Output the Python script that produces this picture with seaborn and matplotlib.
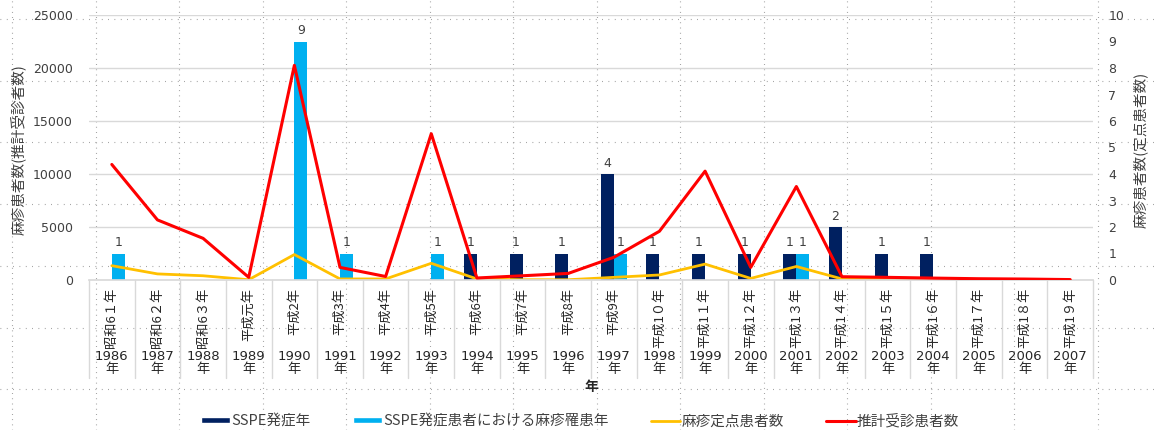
import matplotlib
matplotlib.use('Agg')
import matplotlib.pyplot as plt
from matplotlib.lines import Line2D
from matplotlib.patches import Patch
import seaborn as sns
import numpy as np
import pandas as pd

# Data
years = [str(y) for y in range(1986, 2008)]
era_labels = ['昭和6１年', '昭和6２年', '昭和6３年', '平成元年', '平成2年', '平成3年', '平成4年',
              '平成5年', '平成6年', '平成7年', '平成8年', '平成9年', '平成1０年', '平成1１年',
              '平成1２年', '平成1３年', '平成1４年', '平成1５年', '平成1６年', '平成1７年',
              '平成1８年', '平成1９年']
sspe_onset = [0, 0, 0, 0, 0, 0, 0, 0, 1, 1, 1, 4, 1, 1, 1, 1, 2, 1, 1, 0, 0, 0]
sspe_measles_year = [1, 0, 0, 0, 9, 1, 0, 1, 0, 0, 0, 1, 0, 0, 0, 1, 0, 0, 0, 0, 0, 0]
sentinel_cases = [0.54, 0.23, 0.16, 0.01, 0.96, 0.04, 0.04, 0.63, 0.04, 0.01, 0.01, 0.10,
                  0.19, 0.60, 0.06, 0.51, 0.04, 0.03, 0.02, 0.01, 0.01, 0.00]
estimated_cases = [10900, 5670, 3930, 250, 20250, 1190, 330, 13800, 190, 400, 620, 2140,
                   4600, 10270, 1190, 8820, 310, 250, 180, 120, 90, 40]
series_names = ['SSPE発症年', 'SSPE発症患者における麻疹罹患年', '麻疹定点患者数', '推計受診患者数']

# Constants for plot formatting.
NAVY = '#002060'
LIGHT_BLUE = '#00B0F0'
YELLOW = '#FFC000'
RED = '#FF0000'
GRID = '#d9d9d9'
TEXT = '#404040'
W, H = 1155, 430

sns.set_theme(style='white')
plt.rcParams['font.family'] = ['DejaVu Sans', 'Noto Sans CJK JP']
CJK = ['Noto Sans CJK JP', 'DejaVu Sans']

df = pd.DataFrame({
    'year': years * 2,
    'count': sspe_onset + sspe_measles_year,
    'series': [series_names[0]] * len(years) + [series_names[1]] * len(years),
})

fig = plt.figure(figsize=(W / 100, H / 100), dpi=100)
fig.patch.set_facecolor('white')

# sheet-like dotted background grid
for k in range(14):
    x = (12 + 83.5 * k) / W
    fig.add_artist(Line2D([x, x], [0, 1], transform=fig.transFigure, color='#8c8c8c',
                          lw=0.8, linestyle=(0, (0.7, 4)), zorder=-5))
for k in range(7):
    y = 1 - (19 + 61.7 * k) / H
    fig.add_artist(Line2D([0, 1], [y, y], transform=fig.transFigure, color='#8c8c8c',
                          lw=0.8, linestyle=(0, (0.7, 5)), zorder=-5))

ax = fig.add_axes([89 / W, 1 - 280 / H, (1093 - 89) / W, 265 / H])
ax.set_facecolor('none')

# bars on the right-hand (count) scale
sns.barplot(data=df, x='year', y='count', hue='series', order=years,
            hue_order=series_names[:2], palette=[NAVY, LIGHT_BLUE], saturation=1,
            width=0.57, edgecolor='none', ax=ax, legend=False)
for cont, vals in zip(ax.containers, [sspe_onset, sspe_measles_year]):
    ax.bar_label(cont, labels=[str(v) if v else '' for v in vals], padding=3,
                 fontsize=9, color=TEXT)

idx = np.arange(len(years))
sns.lineplot(x=idx, y=sentinel_cases, ax=ax, color=YELLOW, linewidth=2)

for g in [2, 4, 6, 8, 10]:
    ax.axhline(g, color=GRID, lw=1, zorder=0)

ax.set_ylim(0, 10)
ax.set_xlim(-0.5, len(years) - 0.5)
ax.set_yticks(range(11))
ax.grid(False)
ax.set_xlabel('')
ax.set_ylabel('')
ax.tick_params(axis='x', bottom=False, labelbottom=False)
for s in ['top', 'left', 'right']:
    ax.spines[s].set_visible(False)
ax.spines['bottom'].set_color(GRID)

# estimated cases on the left-hand scale
ax2 = ax.twinx()
ax2.set_facecolor('none')
sns.lineplot(x=idx, y=estimated_cases, ax=ax2, color=RED, linewidth=2.2)
ax2.set_ylim(0, 25000)
ax2.set_yticks(range(0, 25001, 5000))
ax2.grid(False)
ax2.set_ylabel('')
for s in ax2.spines.values():
    s.set_visible(False)

# swap sides: counts on the right, estimated cases on the left
ax.yaxis.tick_right()
ax2.yaxis.tick_left()
ax.tick_params(axis='y', which='both', left=False, right=False, labelleft=False,
               labelright=True, length=0, pad=11, labelsize=9, labelcolor=TEXT)
ax2.tick_params(axis='y', which='both', left=False, right=False, labelleft=True,
                labelright=False, length=0, pad=11.5, labelsize=9, labelcolor=TEXT)

# multi-level category axis
xt = ax.get_xaxis_transform()
for i in range(len(years) + 1):
    ax.plot([i - 0.5, i - 0.5], [0, -98 / 265], transform=xt, color=GRID, lw=1,
            clip_on=False)
for i, (era, yr) in enumerate(zip(era_labels, years)):
    ax.text(i, -8 / 265, era, transform=xt, rotation=90, ha='center', va='top',
            fontsize=9.5, family=CJK, color='#262626')
    ax.text(i, -83 / 265, f'{yr}\n年', transform=xt, ha='center', va='center',
            fontsize=9.5, color='#262626', linespacing=1.05)
ax.text(0.5, -107 / 265, '年', transform=ax.transAxes, ha='center', va='center',
        fontsize=10, fontweight='bold', color='#262626')

fig.text(18 / W, 1 - 150 / H, '麻疹患者数(推計受診者数)', rotation=90, ha='center',
         va='center', fontsize=10.5, family=CJK, color=TEXT)
fig.text(1140 / W, 1 - 150 / H, '麻疹患者数(定点患者数)', rotation=90, ha='center',
         va='center', fontsize=10.5, family=CJK, color=TEXT)

handles = [Patch(facecolor=NAVY), Patch(facecolor=LIGHT_BLUE),
           Line2D([], [], color=YELLOW, lw=2), Line2D([], [], color=RED, lw=2.2)]
fig.legend(handles, series_names, loc='center', bbox_to_anchor=(580 / W, 1 - 421 / H),
           ncol=4, frameon=False, prop={'family': CJK, 'size': 10.5}, handlelength=2.0,
           handleheight=0.3, handletextpad=0.1, columnspacing=2.9, labelcolor=TEXT)

fig.savefig('out.png', dpi=100)
